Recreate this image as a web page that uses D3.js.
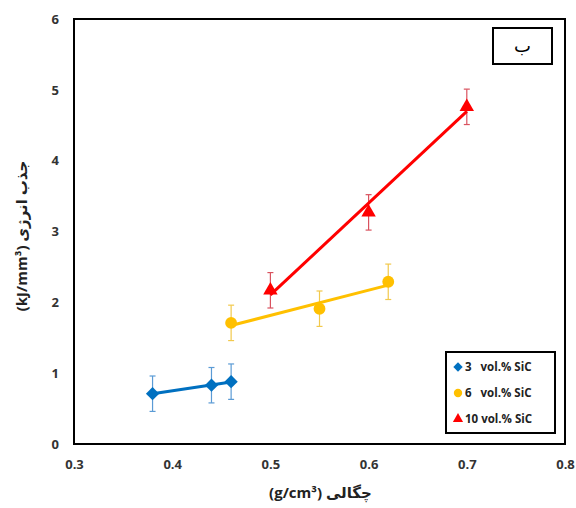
<!DOCTYPE html>
<html>
<head>
<meta charset="utf-8">
<script src="https://cdn.jsdelivr.net/npm/d3@7"></script>
<style>
  html, body { margin: 0; padding: 0; background: #fff; }
  svg { display: block; }
  text { font-family: 'Open Sans', 'DejaVu Sans', sans-serif; }
</style>
</head>
<body>
<svg id="chart" width="576" height="508"></svg>
<script>
// Density (g/cm³) vs energy absorption (kJ/mm³) for three SiC contents
const density3 = [0.38, 0.44, 0.46];
const energy3  = [0.71, 0.83, 0.88];
const density6 = [0.46, 0.55, 0.62];
const energy6  = [1.71, 1.91, 2.29];
const density10 = [0.50, 0.60, 0.70];
const energy10  = [2.17, 3.27, 4.76];
const errorBar = 0.25;

const seriesNames = ["3   vol.% SiC", "6   vol.% SiC", "10 vol.% SiC"];
const xTicks = [0.3, 0.4, 0.5, 0.6, 0.7, 0.8];
const yTicks = [0, 1, 2, 3, 4, 5, 6];
const xTitle = "چگالی (g/cm³)";
const yTitle = "جذب انرژی (kJ/mm³)";
const panelLetter = "ب";

// diamonds are squares turned by 45°
const series = [
  { name: seriesNames[0], xs: density3,  ys: energy3,  color: "#0070C0", err: "#5B9BD5", shape: d3.symbolSquare,   rot: 45, size: 88 },
  { name: seriesNames[1], xs: density6,  ys: energy6,  color: "#FFC000", err: "#F2C94C", shape: d3.symbolCircle,   rot: 0,  size: 110 },
  { name: seriesNames[2], xs: density10, ys: energy10, color: "#FF0000", err: "#D9535F", shape: d3.symbolTriangle, rot: 0,  size: 90 }
];

const svg = d3.select("#chart");
const plotL = 74, plotR = 565, plotT = 19, plotB = 444;

const x = d3.scaleLinear().domain([0.3, 0.8]).range([plotL, plotR]);
const y = d3.scaleLinear().domain([0, 6]).range([plotB, plotT]);

// plot frame
svg.append("rect")
  .attr("x", plotL).attr("y", plotT)
  .attr("width", plotR - plotL).attr("height", plotB - plotT)
  .attr("fill", "none").attr("stroke", "#000").attr("stroke-width", 2);

// axes (labels only)
const xAxis = d3.axisBottom(x).tickValues(xTicks).tickFormat(d3.format(".1f")).tickSize(0).tickPadding(0);
const gx = svg.append("g").attr("transform", `translate(0,${plotB + 16})`).call(xAxis);
gx.select(".domain").remove();
gx.selectAll("text").attr("font-size", 13).attr("font-weight", "bold").attr("fill", "#333")
  .attr("font-family", "'Open Sans', sans-serif");

const yAxis = d3.axisLeft(y).tickValues(yTicks).tickFormat(d3.format("d")).tickSize(0).tickPadding(0);
const gy = svg.append("g").attr("transform", `translate(${plotL - 15},0)`).call(yAxis);
gy.select(".domain").remove();
gy.selectAll("text").attr("font-size", 13).attr("font-weight", "bold").attr("fill", "#333")
  .attr("font-family", "'Open Sans', sans-serif");

// least-squares trend line across each series' x range
function fit(xs, ys) {
  const mx = d3.mean(xs), my = d3.mean(ys);
  const sxy = d3.sum(xs, (v, i) => (v - mx) * (ys[i] - my));
  const sxx = d3.sum(xs, v => (v - mx) * (v - mx));
  const b = sxy / sxx, a = my - b * mx;
  const x0 = d3.min(xs), x1 = d3.max(xs);
  return [[x0, a + b * x0], [x1, a + b * x1]];
}

const line = d3.line().x(d => x(d[0])).y(d => y(d[1]));

series.forEach(s => {
  const g = svg.append("g");
  const pts = s.xs.map((v, i) => [v, s.ys[i]]);

  // error bars
  pts.forEach(p => {
    const cx = x(p[0]);
    const y0 = y(p[1] - errorBar), y1 = y(p[1] + errorBar);
    g.append("line").attr("x1", cx).attr("x2", cx).attr("y1", y0).attr("y2", y1)
      .attr("stroke", s.err).attr("stroke-width", 1.2);
    [y0, y1].forEach(yy => g.append("line")
      .attr("x1", cx - 3).attr("x2", cx + 3).attr("y1", yy).attr("y2", yy)
      .attr("stroke", s.err).attr("stroke-width", 1.2));
  });

  // trend line
  g.append("path").attr("d", line(fit(s.xs, s.ys)))
    .attr("fill", "none").attr("stroke", s.color).attr("stroke-width", 3);

  // markers
  g.selectAll("path.mark").data(pts).enter().append("path")
    .attr("class", "mark")
    .attr("d", d3.symbol().type(s.shape).size(s.size))
    .attr("transform", d => `translate(${x(d[0])},${y(d[1])}) rotate(${s.rot})`)
    .attr("fill", s.color);
});

// legend
const legX = 446, legY = 352, legW = 109, legH = 81;
svg.append("rect").attr("x", legX).attr("y", legY).attr("width", legW).attr("height", legH)
  .attr("fill", "#fff").attr("stroke", "#000").attr("stroke-width", 2);
series.forEach((s, i) => {
  const ry = legY + 15 + i * 26;
  svg.append("path")
    .attr("d", d3.symbol().type(s.shape).size(s.size * 0.5))
    .attr("transform", `translate(${legX + 12},${ry}) rotate(${s.rot})`)
    .attr("fill", s.color);
  svg.append("text")
    .attr("x", legX + 19).attr("y", ry + 4)
    .attr("font-size", 11.5).attr("font-weight", "bold").attr("fill", "#222")
    .style("white-space", "pre")
    .text(s.name);
});

// panel letter box
svg.append("rect").attr("x", 493).attr("y", 28).attr("width", 59).attr("height", 36)
  .attr("fill", "#fff").attr("stroke", "#000").attr("stroke-width", 2);
svg.append("text").attr("x", 522.5).attr("y", 52)
  .attr("text-anchor", "middle").attr("font-size", 18).attr("fill", "#000")
  .attr("font-family", "'DejaVu Sans', sans-serif")
  .text(panelLetter);

// axis titles
svg.append("text")
  .attr("x", (plotL + plotR) / 2 + 1).attr("y", 498)
  .attr("text-anchor", "middle").attr("direction", "rtl")
  .attr("font-size", 15).attr("font-weight", "bold").attr("fill", "#222")
  .text(xTitle);

svg.append("text")
  .attr("transform", `translate(27,236) rotate(-90)`)
  .attr("text-anchor", "middle").attr("direction", "rtl")
  .attr("font-size", 15).attr("font-weight", "bold").attr("fill", "#222")
  .text(yTitle);
</script>
</body>
</html>
